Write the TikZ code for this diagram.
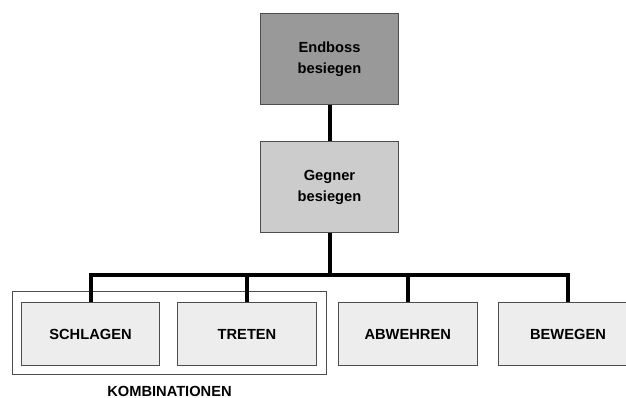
\documentclass[tikz,border=0pt]{standalone}
\usepackage{fontspec}
\setmainfont{Liberation Sans}
\usetikzlibrary{positioning}

\begin{document}
\begin{tikzpicture}[x=0.75pt, y=-0.75pt,
    goalbox/.style={draw=black!70, line width=0.75pt, minimum width=103.5pt, minimum height=68.5pt,
      align=center, font=\fontsize{11}{16}\selectfont\bfseries, inner sep=0pt},
    actbox/.style={draw=black!70, line width=0.75pt, fill=black!7, minimum width=104pt, minimum height=47.25pt,
      font=\fontsize{11}{13}\selectfont\bfseries, inner sep=0pt},
    conn/.style={line width=3pt}]
  \useasboundingbox (0,0) rectangle (626,398);

  \node[goalbox, fill=black!40] (endboss) at (329.5, 59.3) {Endboss\\besiegen};
  \node[goalbox, fill=black!20] (gegner) at (329.5, 187.2) {Gegner\\besiegen};

  \draw[draw=black!70, line width=0.75pt] (12.7, 292) rectangle (326, 375);
  \node[font=\fontsize{11}{13}\selectfont\bfseries, anchor=base, inner sep=0pt] (kombi) at (169.5, 396.3) {KOMBINATIONEN};

  \node[actbox] (schlagen) at (90.5, 334) {SCHLAGEN};
  \node[actbox] (treten) at (247, 334) {TRETEN};
  \node[actbox] (abwehren) at (407.7, 334) {ABWEHREN};
  \node[actbox] (bewegen) at (568, 334) {BEWEGEN};

  \coordinate (bar) at (329.5, 275);

  \draw[conn] (endboss) -- (gegner);
  \draw[conn] (gegner) -- (bar);
  \draw[conn] (schlagen.north) |- (bar) -| (bewegen.north);
  \draw[conn] (treten.north) -- (treten.north |- bar);
  \draw[conn] (abwehren.north) -- (abwehren.north |- bar);
\end{tikzpicture}
\end{document}
